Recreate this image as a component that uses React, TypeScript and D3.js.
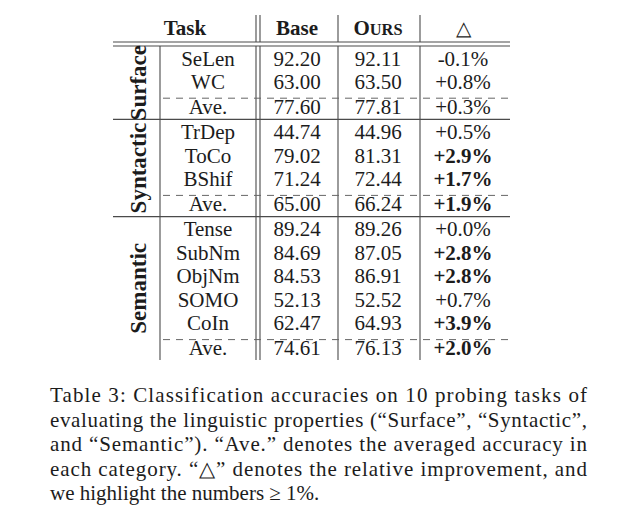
import React from "react";
import * as d3 from "d3";

const groups = ["Surface", "Syntactic", "Semantic"];
const groupOf = [0, 0, 0, 1, 1, 1, 1, 2, 2, 2, 2, 2, 2];
const tasks = ["SeLen", "WC", "Ave.", "TrDep", "ToCo", "BShif", "Ave.", "Tense", "SubNm", "ObjNm", "SOMO", "CoIn", "Ave."];
const baseVals = [92.2, 63.0, 77.6, 44.74, 79.02, 71.24, 65.0, 89.24, 84.69, 84.53, 52.13, 62.47, 74.61];
const oursVals = [92.11, 63.5, 77.81, 44.96, 81.31, 72.44, 66.24, 89.26, 87.05, 86.91, 52.52, 64.93, 76.13];
const deltaVals = [-0.1, 0.8, 0.3, 0.5, 2.9, 1.7, 1.9, 0.0, 2.8, 2.8, 0.7, 3.9, 2.0];
const captionLines = [
  "Table 3: Classification accuracies on 10 probing tasks of",
  "evaluating the linguistic properties (\u201CSurface\u201D, \u201CSyntactic\u201D,",
  "and \u201CSemantic\u201D). \u201CAve.\u201D denotes the averaged accuracy in",
  "each category. \u201C\u25B3\u201D denotes the relative improvement, and",
  "we highlight the numbers \u2265 1%.",
];

const FONT = "'Liberation Serif', 'Times New Roman', serif";
const TXT = "#1c1c1c";
const LINE = "#4a4a4a";

export default function App() {
  const W = 619;
  const H = 527;
  // column centers / boundaries
  const colX = d3.scaleOrdinal<string, number>().domain(["group", "task", "base", "ours", "delta"]).range([138, 208, 297, 378, 463]);
  const tableLeft = 113;
  const tableRight = 510;
  const vGroup = 160;
  const vTask = [256, 260];
  const vBase = 338;
  const vOurs = 420;

  const pitch = 23.5;
  const aveExtra = 1.2;
  const sepGap = 2;
  const yIdx = d3.scaleLinear().domain([0, 1]).range([58.5, 58.5 + pitch]);
  const aveCountUpTo = (i: number) => tasks.slice(0, i + 1).filter((t) => t === "Ave.").length;
  const rowY = (i: number) => yIdx(i) + aveExtra * aveCountUpTo(i) + sepGap * groupOf[i];

  const topRule = [42, 46];
  const headerTop = 15;
  const bodyBottom = 360;
  const headerY = 28;

  const fs = 21;
  const baseOff = 7; // center -> baseline

  const groupSpans = groups.map((g, gi) => {
    const idx = groupOf.map((v, i) => (v === gi ? i : -1)).filter((i) => i >= 0);
    return { g, first: idx[0], last: idx[idx.length - 1] };
  });
  const solidSeps = groupSpans.slice(0, -1).map((s, k) => (rowY(s.last) + rowY(groupSpans[k + 1].first)) / 2);
  const spanTop = (gi: number) => (gi === 0 ? topRule[1] : solidSeps[gi - 1]);
  const spanBot = (gi: number) => (gi === groups.length - 1 ? bodyBottom : solidSeps[gi]);

  const fmt = (d: number) => (d < 0 ? "-" : "+") + Math.abs(d).toFixed(1) + "%";

  const capTop = 402;
  const capPitch = 24.6;
  const capLeft = 50;
  const capRight = 587;

  return (
    <svg width={W} height={H} style={{ position: "absolute", left: 0, top: 0, background: "#fff" }} fontFamily={FONT}>
      <rect width={W} height={H} fill="#fff" />
      {/* header */}
      <g fill={TXT} fontSize={fs} fontWeight="bold" textAnchor="middle">
        <text x={185} y={headerY + baseOff}>Task</text>
        <text x={colX("base")} y={headerY + baseOff}>Base</text>
        <text x={colX("ours")} y={headerY + baseOff}>
          O<tspan fontSize={fs * 0.78}>URS</tspan>
        </text>
      </g>
      <text x={colX("delta")} y={headerY + baseOff} fontSize={20} textAnchor="middle" fill={TXT} fontFamily="'DejaVu Sans', sans-serif" fontWeight={200}>
        {"\u25B3"}
      </text>
      {/* top double rule */}
      {topRule.map((y, k) => (
        <line key={"tr" + k} x1={tableLeft} x2={tableRight} y1={y} y2={y} stroke={LINE} strokeWidth={1.2} />
      ))}
      {/* vertical lines */}
      <g stroke={LINE} strokeWidth={1.1}>
        {[...vTask, vBase, vOurs].map((x, k) => (
          <g key={"v" + k}>
            <line x1={x} x2={x} y1={headerTop} y2={topRule[0]} />
            <line x1={x} x2={x} y1={topRule[1]} y2={bodyBottom} />
          </g>
        ))}
        <line x1={vGroup} x2={vGroup} y1={topRule[1]} y2={bodyBottom} />
      </g>
      {/* solid separators */}
      {solidSeps.map((y, k) => (
        <line key={"s" + k} x1={tableLeft} x2={tableRight} y1={y} y2={y} stroke={LINE} strokeWidth={1.2} />
      ))}
      {/* dashed separators */}
      {tasks.map((t, i) =>
        t === "Ave." ? (
          <line key={"d" + i} x1={vGroup + 3} x2={tableRight} y1={rowY(i) - 8.5} y2={rowY(i) - 8.5} stroke="#666" strokeWidth={1} strokeDasharray="7 6" />
        ) : null
      )}
      {/* group labels */}
      {groupSpans.map((s, gi) => {
        const cy = (spanTop(gi) + spanBot(gi)) / 2;
        return (
          <text key={s.g} transform={`translate(${colX("group") + 8},${cy}) rotate(-90)`} textAnchor="middle" fontSize={23} fontWeight="bold" fill={TXT}>
            {s.g}
          </text>
        );
      })}
      {/* rows */}
      <g fill={TXT} fontSize={fs} textAnchor="middle">
        {tasks.map((t, i) => (
          <g key={"r" + i}>
            <text x={colX("task")} y={rowY(i) + baseOff}>{t}</text>
            <text x={colX("base")} y={rowY(i) + baseOff}>{baseVals[i].toFixed(2)}</text>
            <text x={colX("ours")} y={rowY(i) + baseOff}>{oursVals[i].toFixed(2)}</text>
            <text x={colX("delta")} y={rowY(i) + baseOff} fontWeight={deltaVals[i] >= 1 ? "bold" : "normal"}>
              {fmt(deltaVals[i])}
            </text>
          </g>
        ))}
      </g>
      {/* caption */}
      <g fill={TXT} fontSize={21}>
        {captionLines.map((l, k) => (
          <text
            key={"c" + k}
            x={capLeft}
            y={capTop + k * capPitch}
            textLength={k < captionLines.length - 1 ? capRight - capLeft : undefined}
            lengthAdjust="spacing"
          >
            {l}
          </text>
        ))}
      </g>
    </svg>
  );
}
